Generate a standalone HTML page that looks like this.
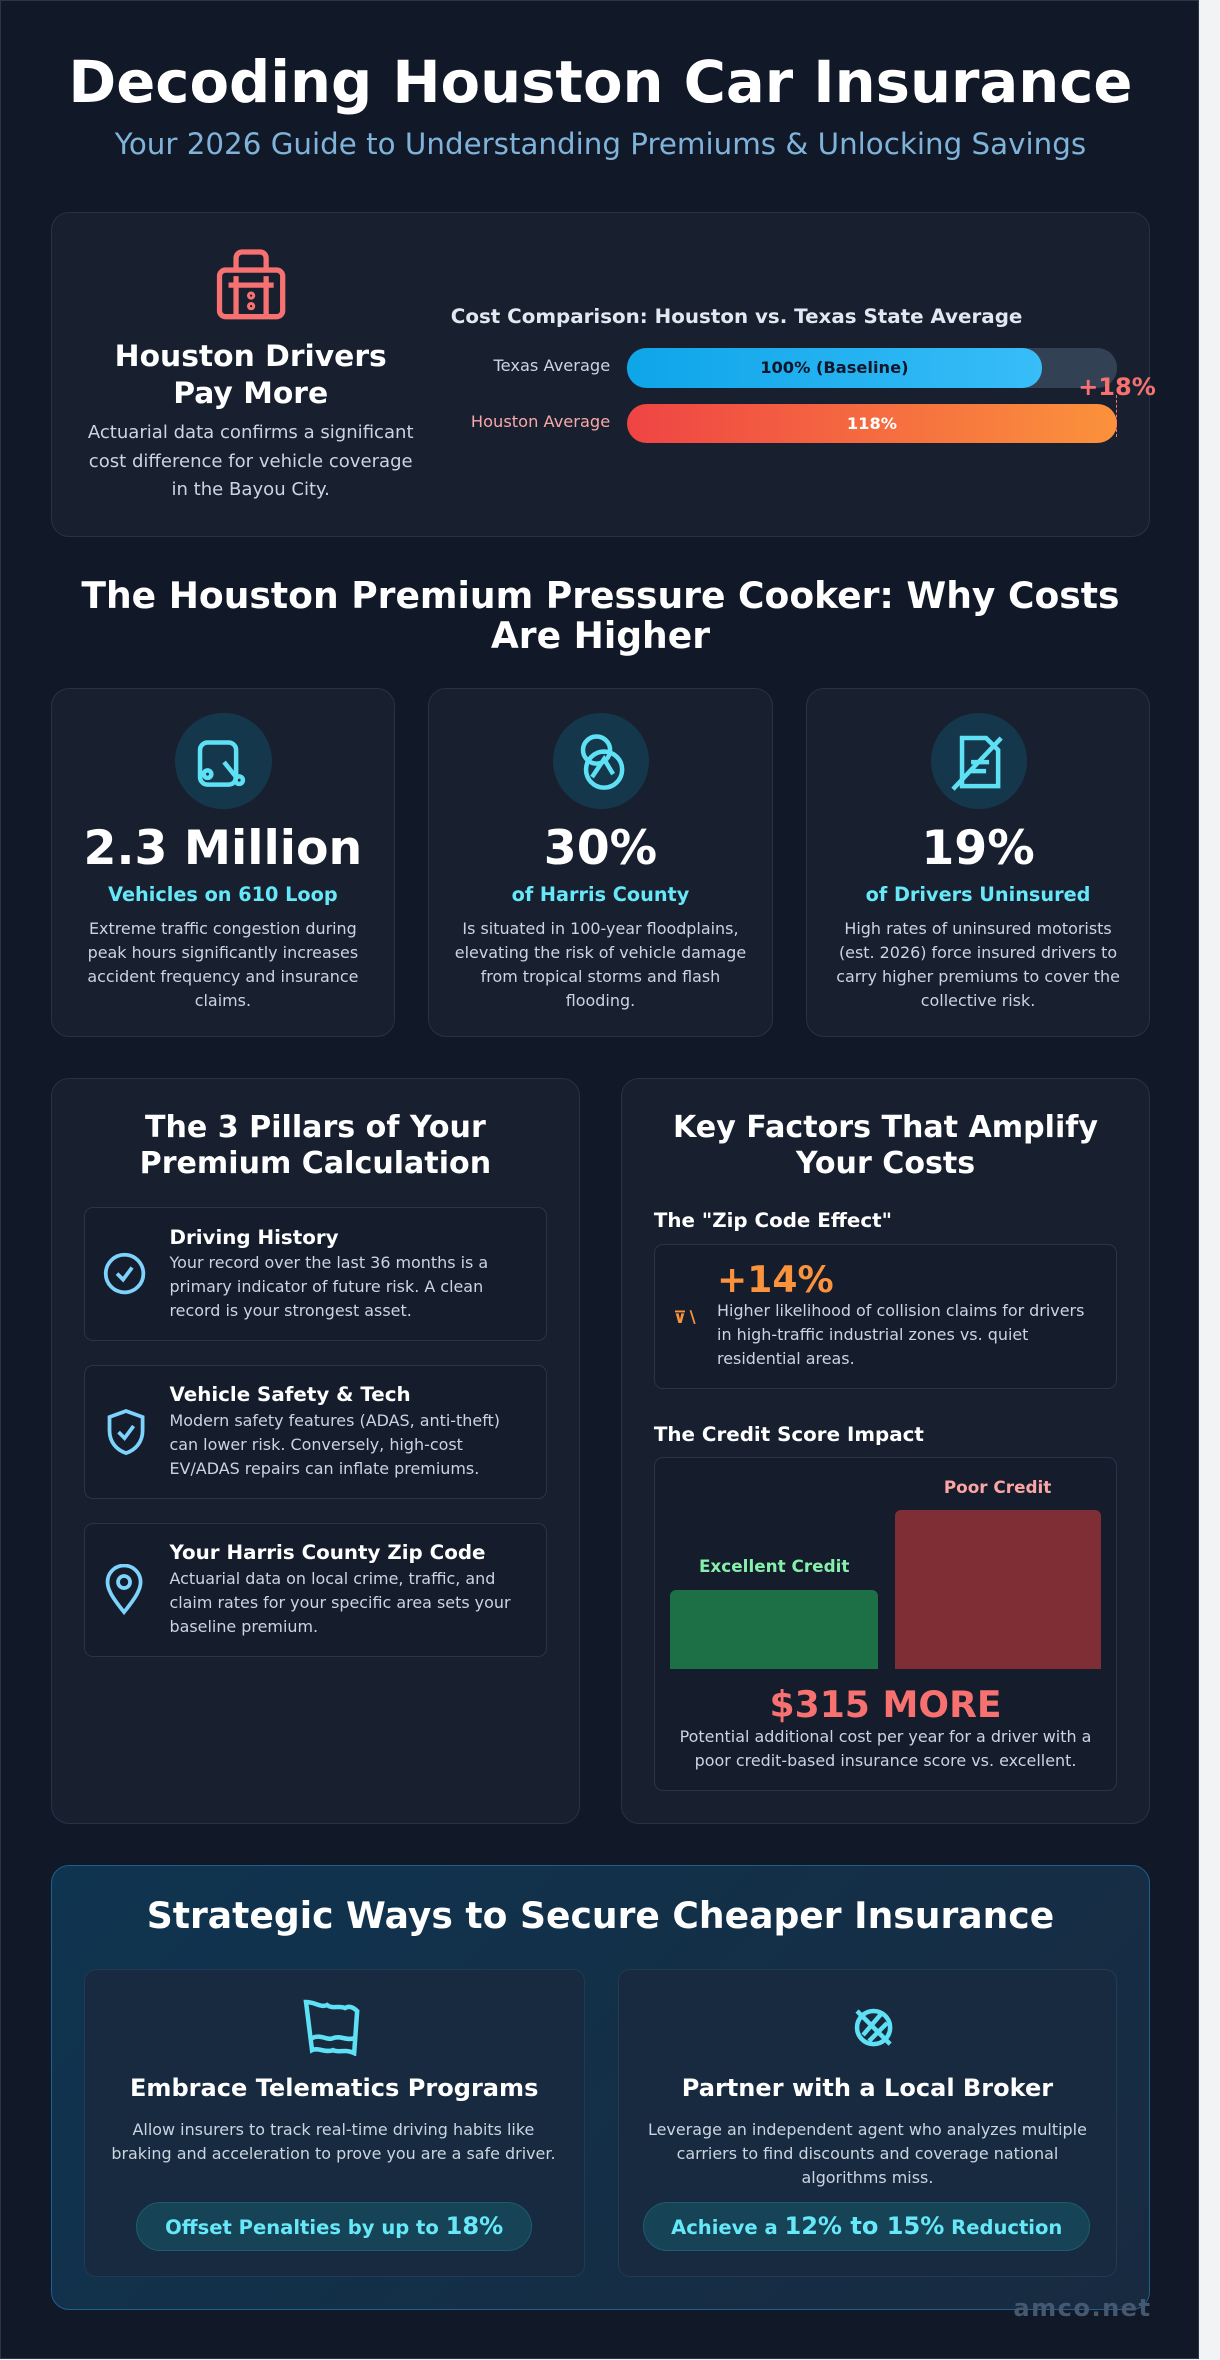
<!DOCTYPE html>
<html><head><meta charset="utf-8"><style>
html,body{margin:0;padding:0;background:#f1f3f5;width:1220px;height:2360px;overflow:hidden}
#w{position:absolute;left:0;top:0;width:811px;height:1569px;zoom:1.5043;font-family:"DejaVu Sans","Liberation Sans",sans-serif;color:#fff}
#main{position:absolute;left:0;top:0;width:796px;height:1567px;background:#111827;border:1px solid #2b3545}
.a{position:absolute}
.c{text-align:center}
.card{position:absolute;background:#182030;border:1px solid #283245;border-radius:12px;box-sizing:border-box}
.inner{position:absolute;background:#151c2b;border:1px solid #2a3446;border-radius:6px;box-sizing:border-box}
.b{font-weight:bold}
.t{color:#cbd5e1}
</style></head><body><div id="w"><div id="main">
<div class="a c b" style="left:0;width:797px;top:29px;font-size:38.3px;line-height:50px">Decoding Houston Car Insurance</div>
<div class="a c" style="left:0;width:797px;top:83px;font-size:19.5px;line-height:24px;color:#7fb3d9">Your 2026 Guide to Understanding Premiums &amp; Unlocking Savings</div>

<div class="card" style="left:33px;top:140px;width:731px;height:216px"></div>
<svg class="a" style="left:142px;top:163px" width="48" height="50" viewBox="0 0 48 50"><g fill="none" stroke="#f87171" stroke-width="3.5"><rect x="3" y="16" width="42" height="31" rx="4"/><path d="M14 16V8a4 4 0 0 1 4-4h12a4 4 0 0 1 4 4v8M9 26h30M14 20v27M34 20v27"/><circle cx="24" cy="33" r="1" /><circle cx="24" cy="40" r="1"/></g></svg>
<div class="a c b" style="left:56px;width:220px;top:225px;font-size:19.8px;line-height:24px">Houston Drivers<br>Pay More</div>
<div class="a c t" style="left:56px;width:220px;top:278px;font-size:12px;line-height:19px">Actuarial data confirms a significant cost difference for vehicle coverage in the Bayou City.</div>
<div class="a b" style="left:299px;top:202px;font-size:13.2px;color:#e2e8f0">Cost Comparison: Houston vs. Texas State Average</div>
<div class="a" style="left:300px;width:105px;text-align:right;top:236px;font-size:10.8px;color:#cbd5e1">Texas Average</div>
<div class="a" style="left:300px;width:105px;text-align:right;top:273px;font-size:10.8px;color:#f9a8a8">Houston Average</div>
<div class="a" style="left:416px;top:231px;width:326px;height:26px;border-radius:13px;background:#334155"></div>
<div class="a c b" style="left:416px;top:231px;width:276px;height:26px;border-radius:13px;background:linear-gradient(90deg,#0ea5e9,#38bdf8);font-size:10.8px;line-height:26px;color:#0f172a">100% (Baseline)</div>
<div class="a c b" style="left:416px;top:268px;width:326px;height:26px;border-radius:13px;background:linear-gradient(90deg,#ef4444,#fb923c);font-size:10.8px;line-height:26px">118%</div>
<div class="a" style="left:741px;top:262px;height:28px;border-left:1px dashed #f87171"></div>
<div class="a b" style="left:716px;top:247px;font-size:16px;color:#f87171">+18%</div>

<div class="a c b" style="left:30px;width:737px;top:382px;font-size:24px;line-height:27px">The Houston Premium Pressure Cooker: Why Costs Are Higher</div>

<div class="card" style="left:33px;top:457px;width:229px;height:232px"></div>
<div class="card" style="left:284px;top:457px;width:229px;height:232px"></div>
<div class="card" style="left:535px;top:457px;width:229px;height:232px"></div>
<div class="a" style="left:116px;top:473px;width:64px;height:64px;border-radius:50%;background:#15374b"></div>
<div class="a" style="left:367px;top:473px;width:64px;height:64px;border-radius:50%;background:#15374b"></div>
<div class="a" style="left:618px;top:473px;width:64px;height:64px;border-radius:50%;background:#15374b"></div>
<svg class="a" style="left:128px;top:490px" width="40" height="36" viewBox="0 0 40 36"><g fill="none" stroke="#5ee0f5" stroke-width="3"><rect x="4" y="3" width="24" height="28" rx="5"/><circle cx="9" cy="24" r="2.5"/><circle cx="30" cy="28" r="2.5"/><path d="M20 16l8 10"/></g></svg>
<svg class="a" style="left:383px;top:486px" width="34" height="40" viewBox="0 0 34 40"><g fill="none" stroke="#5ee0f5" stroke-width="3"><circle cx="13" cy="12" r="9"/><circle cx="18" cy="25" r="12"/><path d="M10 30l8-12 6 10"/></g></svg>
<svg class="a" style="left:631px;top:486px" width="38" height="40" viewBox="0 0 38 40"><g fill="none" stroke="#5ee0f5" stroke-width="3"><path d="M8 4h16l8 8v24H8z"/><path d="M14 20h12M14 26h10M2 38L34 4"/></g></svg>
<div class="a c b" style="left:33px;width:229px;top:544px;font-size:31.5px;line-height:40px">2.3 Million</div>
<div class="a c b" style="left:284px;width:229px;top:544px;font-size:31.5px;line-height:40px">30%</div>
<div class="a c b" style="left:535px;width:229px;top:544px;font-size:31.5px;line-height:40px">19%</div>
<div class="a c b" style="left:33px;width:229px;top:586px;font-size:12.8px;color:#67e8f9">Vehicles on 610 Loop</div>
<div class="a c b" style="left:284px;width:229px;top:586px;font-size:12.8px;color:#67e8f9">of Harris County</div>
<div class="a c b" style="left:535px;width:229px;top:586px;font-size:12.8px;color:#67e8f9">of Drivers Uninsured</div>
<div class="a c t" style="left:52px;width:191px;top:609px;font-size:10.6px;line-height:16px">Extreme traffic congestion during peak hours significantly increases accident frequency and insurance claims.</div>
<div class="a c t" style="left:298px;width:201px;top:609px;font-size:10.6px;line-height:16px">Is situated in 100-year floodplains, elevating the risk of vehicle damage from tropical storms and flash flooding.</div>
<div class="a c t" style="left:551px;width:197px;top:609px;font-size:10.6px;line-height:16px">High rates of uninsured motorists (est. 2026) force insured drivers to carry higher premiums to cover the collective risk.</div>

<div class="card" style="left:33px;top:716px;width:352px;height:496px"></div>
<div class="card" style="left:412px;top:716px;width:352px;height:496px"></div>
<div class="a c b" style="left:33px;width:352px;top:737px;font-size:20px;line-height:24px">The 3 Pillars of Your<br>Premium Calculation</div>
<div class="a c b" style="left:412px;width:352px;top:737px;font-size:20px;line-height:24px">Key Factors That Amplify<br>Your Costs</div>

<div class="inner" style="left:55px;top:802px;width:308px;height:89px"></div>
<div class="inner" style="left:55px;top:907px;width:308px;height:89px"></div>
<div class="inner" style="left:55px;top:1012px;width:308px;height:89px"></div>
<svg class="a" style="left:67px;top:831px" width="30" height="30" viewBox="0 0 30 30"><g fill="none" stroke="#7dd3fc" stroke-width="2.5"><circle cx="15" cy="15" r="12.5"/><path d="M10 15l4 4 6-8"/></g></svg>
<svg class="a" style="left:69px;top:935px" width="28" height="32" viewBox="0 0 28 32"><g fill="none" stroke="#7dd3fc" stroke-width="2.5"><path d="M14 2l11 4v9c0 8-5 13-11 15C8 28 3 23 3 15V6z"/><path d="M9 16l4 4 6-8"/></g></svg>
<svg class="a" style="left:68px;top:1039px" width="28" height="34" viewBox="0 0 28 34"><g fill="none" stroke="#7dd3fc" stroke-width="2.5"><path d="M14 32C6 22 3 17 3 12a11 11 0 0 1 22 0c0 5-3 10-11 20z"/><circle cx="14" cy="12" r="4"/></g></svg>
<div class="a b" style="left:112px;top:814px;font-size:13.2px">Driving History</div>
<div class="a t" style="left:112px;top:831px;width:240px;font-size:10.6px;line-height:16px">Your record over the last 36 months is a primary indicator of future risk. A clean record is your strongest asset.</div>
<div class="a b" style="left:112px;top:919px;font-size:13.2px">Vehicle Safety &amp; Tech</div>
<div class="a t" style="left:112px;top:936px;width:240px;font-size:10.6px;line-height:16px">Modern safety features (ADAS, anti-theft) can lower risk. Conversely, high-cost EV/ADAS repairs can inflate premiums.</div>
<div class="a b" style="left:112px;top:1024px;font-size:13.2px">Your Harris County Zip Code</div>
<div class="a t" style="left:112px;top:1041px;width:240px;font-size:10.6px;line-height:16px">Actuarial data on local crime, traffic, and claim rates for your specific area sets your baseline premium.</div>

<div class="a b" style="left:434px;top:803px;font-size:13.2px">The "Zip Code Effect"</div>
<div class="inner" style="left:434px;top:826px;width:308px;height:97px"></div>
<div class="a b" style="left:447px;top:869px;font-size:11px;color:#fb923c">⊽∖</div>
<div class="a b" style="left:476px;top:835px;font-size:24px;line-height:30px;color:#fb923c">+14%</div>
<div class="a t" style="left:476px;top:863px;width:250px;font-size:10.6px;line-height:16px">Higher likelihood of collision claims for drivers in high-traffic industrial zones vs. quiet residential areas.</div>

<div class="a b" style="left:434px;top:945px;font-size:13.2px">The Credit Score Impact</div>
<div class="inner" style="left:434px;top:968px;width:308px;height:222px"></div>
<div class="a" style="left:445px;top:1056px;width:138px;height:53px;background:#1d7045;border-radius:4px 4px 0 0"></div>
<div class="a" style="left:594px;top:1003px;width:137px;height:106px;background:#7f2e36;border-radius:4px 4px 0 0"></div>
<div class="a c b" style="left:445px;width:138px;top:1034px;font-size:11.2px;color:#86efac">Excellent Credit</div>
<div class="a c b" style="left:594px;width:137px;top:981px;font-size:11.2px;color:#fca5a5">Poor Credit</div>
<div class="a c b" style="left:434px;width:308px;top:1117px;font-size:24px;line-height:32px;color:#f87171">$315 MORE</div>
<div class="a c t" style="left:440px;width:296px;top:1146px;font-size:10.6px;line-height:16px">Potential additional cost per year for a driver with a poor credit-based insurance score vs. excellent.</div>

<div class="a" style="left:33px;top:1239px;width:731px;height:296px;border-radius:12px;border:1px solid #1f5f8a;box-sizing:border-box;background:linear-gradient(135deg,#0f3450,#182a40)"></div>
<div class="a c b" style="left:33px;width:731px;top:1257px;font-size:24px;line-height:32px">Strategic Ways to Secure Cheaper Insurance</div>
<div class="a" style="left:55px;top:1308px;width:333px;height:205px;border-radius:8px;background:#172a3f;border:1px solid #223a52;box-sizing:border-box"></div>
<div class="a" style="left:410px;top:1308px;width:332px;height:205px;border-radius:8px;background:#172a3f;border:1px solid #223a52;box-sizing:border-box"></div>
<svg class="a" style="left:199px;top:1324px" width="44" height="42" viewBox="0 0 44 42"><g fill="none" stroke="#5ee0f5" stroke-width="3"><path d="M4 6c6 0 10 4 14 2 4 3 8 0 12 2 3-2 6 0 8 2l-2 28c-6-3-10 0-14-2-5 2-10-2-14 0z"/><path d="M8 30c6-3 10 2 14 0 5-2 9 2 14 0"/></g></svg>
<svg class="a" style="left:563px;top:1332px" width="34" height="30" viewBox="0 0 34 30"><g fill="none" stroke="#5ee0f5" stroke-width="3"><circle cx="17" cy="15" r="11"/><path d="M6 4l22 22M10 20l12-14M14 24l12-12"/></g></svg>
<div class="a c b" style="left:55px;width:333px;top:1377px;font-size:16px;line-height:22px">Embrace Telematics Programs</div>
<div class="a c b" style="left:410px;width:332px;top:1377px;font-size:16px;line-height:22px">Partner with a Local Broker</div>
<div class="a c t" style="left:71px;width:300px;top:1407px;font-size:10.6px;line-height:16px">Allow insurers to track real-time driving habits like braking and acceleration to prove you are a safe driver.</div>
<div class="a c t" style="left:424px;width:304px;top:1407px;font-size:10.6px;line-height:16px">Leverage an independent agent who analyzes multiple carriers to find discounts and coverage national algorithms miss.</div>
<div class="a c b" style="left:90px;top:1463px;width:263px;height:33px;border-radius:17px;background:#164456;border:1px solid #1f5a6e;box-sizing:border-box;font-size:13px;line-height:31px;color:#67e8f9">Offset Penalties by up to <span style="font-size:16px">18%</span></div>
<div class="a c b" style="left:427px;top:1463px;width:297px;height:33px;border-radius:17px;background:#164456;border:1px solid #1f5a6e;box-sizing:border-box;font-size:13px;line-height:31px;color:#67e8f9">Achieve a <span style="font-size:16px">12% to 15%</span> Reduction</div>
<div class="a b" style="left:673px;top:1524px;font-size:16px;color:#445870;letter-spacing:1px">amco.net</div>
</div></div></body></html>
